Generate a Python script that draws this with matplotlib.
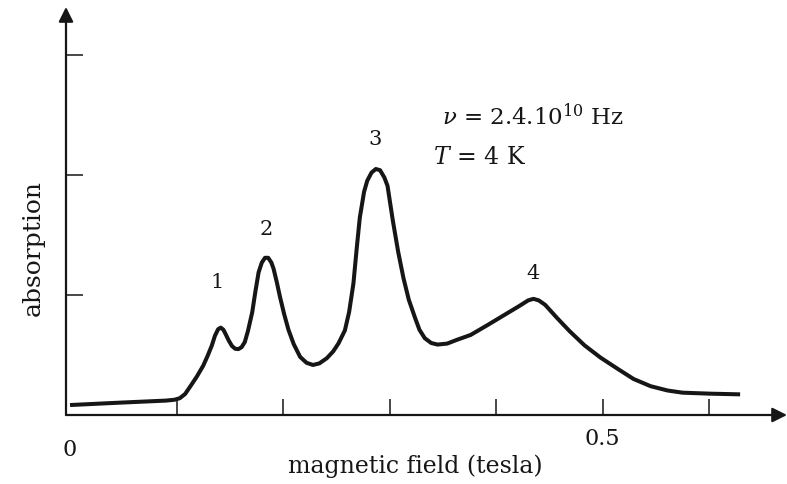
import matplotlib
matplotlib.use("Agg")
import matplotlib.pyplot as plt

plt.rcParams["font.family"] = ["DejaVu Serif"]
plt.rcParams["mathtext.fontset"] = "dejavuserif"

# Absorption trace: magnetic field (tesla) vs absorption (arbitrary units)
field = [0.000, 0.047, 0.090, 0.098, 0.103, 0.108, 0.113, 0.119, 0.125, 0.129,
         0.133, 0.136, 0.139, 0.1415, 0.144, 0.146, 0.149, 0.152, 0.155, 0.158,
         0.161, 0.164, 0.167, 0.171, 0.174, 0.177, 0.180, 0.183, 0.186, 0.189,
         0.191, 0.194, 0.197, 0.201, 0.205, 0.210, 0.216, 0.222, 0.228, 0.234,
         0.241, 0.247, 0.252, 0.258, 0.262, 0.266, 0.269, 0.272, 0.276, 0.279,
         0.283, 0.287, 0.291, 0.295, 0.298, 0.303, 0.308, 0.313, 0.318, 0.324,
         0.328, 0.333, 0.339, 0.345, 0.354, 0.363, 0.376, 0.392, 0.407, 0.422,
         0.430, 0.435, 0.440, 0.446, 0.457, 0.469, 0.483, 0.498, 0.514, 0.529,
         0.545, 0.561, 0.575, 0.600, 0.629]
absorption = [0.083, 0.103, 0.120, 0.127, 0.140, 0.175, 0.240, 0.320, 0.411, 0.490,
              0.577, 0.660, 0.715, 0.728, 0.710, 0.675, 0.620, 0.575, 0.552, 0.549,
              0.565, 0.607, 0.700, 0.856, 1.030, 1.189, 1.270, 1.310, 1.310, 1.270,
              1.220, 1.110, 0.987, 0.840, 0.711, 0.590, 0.484, 0.435, 0.417, 0.430,
              0.473, 0.530, 0.597, 0.705, 0.860, 1.096, 1.380, 1.645, 1.860, 1.953,
              2.020, 2.050, 2.040, 1.980, 1.910, 1.620, 1.360, 1.140, 0.960, 0.806,
              0.710, 0.640, 0.600, 0.587, 0.595, 0.626, 0.667, 0.750, 0.830, 0.910,
              0.955, 0.968, 0.955, 0.918, 0.810, 0.698, 0.580, 0.478, 0.385, 0.300,
              0.240, 0.204, 0.186, 0.178, 0.172]

# Peak numbering and where each number sits
peak_labels = ["1", "2", "3", "4"]
peak_label_x = [0.138, 0.184, 0.286, 0.435]
peak_label_y = [1.11, 1.55, 2.30, 1.19]

x_ticks = [0.1, 0.2, 0.3, 0.4, 0.5, 0.6]
y_ticks = [1, 2, 3]

ink = "#161616"

fig = plt.figure(figsize=(7.87, 4.85), dpi=100)
fig.patch.set_facecolor("white")
ax = fig.add_axes([66 / 787, 1 - 416 / 485, 721 / 787, 408 / 485])
ax.set_xlim(-0.0038, 0.673)
ax.set_ylim(0, 3.4)
for s in ax.spines.values():
    s.set_visible(False)
ax.set_facecolor("none")

# Axes drawn as arrows
ax.annotate("", xy=(0.673, 0), xytext=(-0.0038, 0),
            arrowprops=dict(arrowstyle="-|>", lw=1.6, color=ink,
                            mutation_scale=22, shrinkA=0, shrinkB=0),
            annotation_clip=False)
ax.annotate("", xy=(-0.0038, 3.4), xytext=(-0.0038, 0),
            arrowprops=dict(arrowstyle="-|>", lw=1.6, color=ink,
                            mutation_scale=22, shrinkA=0, shrinkB=0),
            annotation_clip=False)

ax.set_xticks(x_ticks)
ax.set_yticks(y_ticks)
ax.set_xticklabels([])
ax.set_yticklabels([])
ax.tick_params(axis="x", direction="in", length=11.5, width=1.1, color=ink,
               bottom=True, top=False)
ax.tick_params(axis="y", direction="in", length=12.5, width=1.1, color=ink,
               left=True, right=False)

ax.plot(field, absorption, color=ink, lw=2.9, solid_joinstyle="round",
        solid_capstyle="butt", clip_on=False)

for lab, lx, ly in zip(peak_labels, peak_label_x, peak_label_y):
    ax.text(lx, ly, lab, ha="center", va="center", fontsize=15, color=ink)

ax.text(0.0, -0.28, "0", ha="center", va="center", fontsize=16, color=ink)
ax.text(0.5, -0.19, "0.5", ha="center", va="center", fontsize=16, color=ink)

fig.text(442 / 787, 1 - 117 / 485, r"$\nu$ = 2.4.10$^{10}$ Hz", ha="left",
         va="center", fontsize=16.5, color=ink)
fig.text(433 / 787, 1 - 158 / 485, r"$T$ = 4 K", ha="left", va="center",
         fontsize=17, color=ink)

fig.text(415 / 787, 1 - 466 / 485, "magnetic field (tesla)", ha="center",
         va="center", fontsize=17, color=ink)
fig.text(33 / 787, 1 - 248 / 485, "absorption", ha="center", va="center",
         rotation=90, fontsize=18, color=ink)

fig.savefig("out.png", dpi=100, facecolor="white")
